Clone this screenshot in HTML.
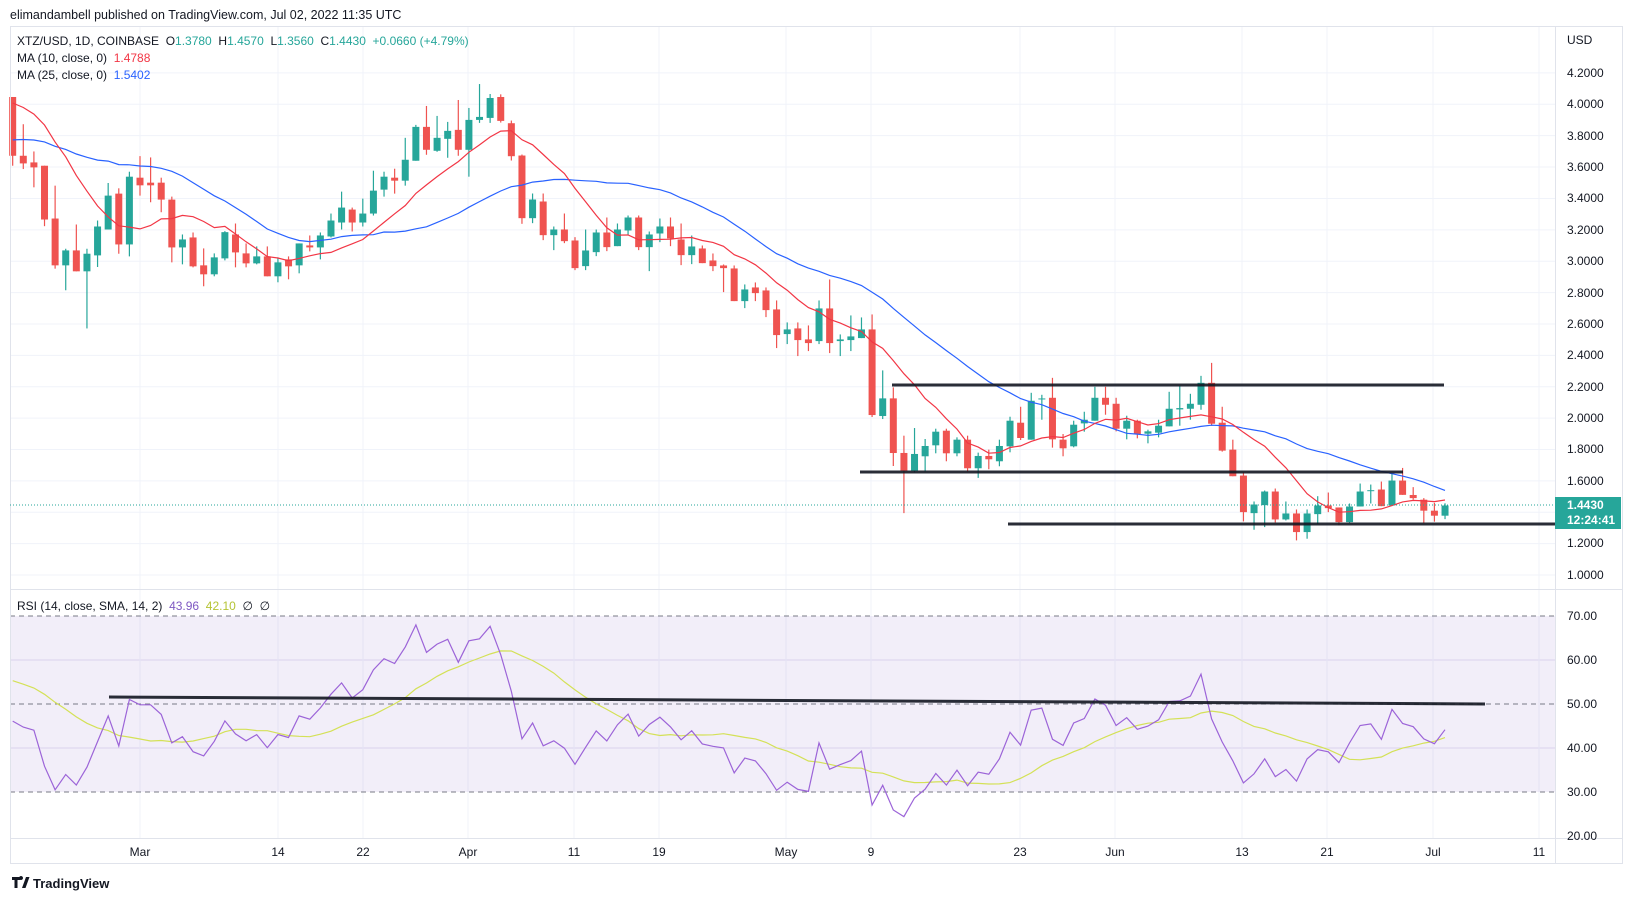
<!DOCTYPE html>
<html><head><meta charset="utf-8">
<style>
body{margin:0;background:#fff;width:1633px;height:901px;overflow:hidden;position:relative;font-family:"Liberation Sans",sans-serif;color:#131722}
.t{position:absolute;font-size:12px;white-space:nowrap;line-height:14px}
.pa{position:absolute;left:1567px;font-size:12px;line-height:14px;color:#131722}
.ta{position:absolute;top:845px;font-size:12px;line-height:14px;transform:translateX(-50%)}
svg{position:absolute;left:0;top:0}
</style></head><body>
<svg id="s" width="1633" height="901" viewBox="0 0 1633 901">
<g id="grid"></g>
<rect x="10" y="616" width="1545" height="176" fill="#7e57c2" fill-opacity="0.1"/>
<g stroke="#787b86" stroke-dasharray="5,4" stroke-width="1">
<line x1="10" y1="616" x2="1555" y2="616"/><line x1="10" y1="704" x2="1555" y2="704"/><line x1="10" y1="792" x2="1555" y2="792"/>
</g>
<g id="main"></g>
<g stroke="#e0e3eb" stroke-width="1" fill="none">
<rect x="10.5" y="26.5" width="1612" height="837"/>
<line x1="1555.5" y1="26" x2="1555.5" y2="864"/>
<line x1="10" y1="589.5" x2="1623" y2="589.5"/>
<line x1="10" y1="838.5" x2="1623" y2="838.5"/>
</g>
<line x1="10" y1="505" x2="1555" y2="505" stroke="#26a69a" stroke-dasharray="1,2"/>
<g stroke="#131722" stroke-width="3" opacity="0.9">
<line x1="892" y1="385" x2="1444" y2="385"/>
<line x1="860" y1="472" x2="1403" y2="472"/>
<line x1="1008" y1="524" x2="1555" y2="524"/>
<line x1="109" y1="697" x2="1485" y2="704"/>
</g>
<rect x="1555" y="497" width="66" height="32" fill="#26a69a"/>
<g transform="translate(12,877)"><path d="M0 0h8v3h-2.5v8h-3V3H0z M9 3a2 2 0 1 1 0.01 0z M10 11l4-11h3.5l-4 11z" fill="#131722"/></g>
</svg>
<div class="t" style="left:10px;top:8px;font-size:12.5px">elimandambell published on TradingView.com, Jul 02, 2022 11:35 UTC</div>
<div class="t" style="left:17px;top:34px">XTZ/USD, 1D, COINBASE&nbsp; O<span style="color:#26a69a">1.3780</span>&nbsp; H<span style="color:#26a69a">1.4570</span>&nbsp; L<span style="color:#26a69a">1.3560</span>&nbsp; C<span style="color:#26a69a">1.4430</span>&nbsp; <span style="color:#26a69a">+0.0660 (+4.79%)</span></div>
<div class="t" style="left:17px;top:51px">MA (10, close, 0)&nbsp; <span style="color:#f23645">1.4788</span></div>
<div class="t" style="left:17px;top:68px">MA (25, close, 0)&nbsp; <span style="color:#2962ff">1.5402</span></div>
<div class="t" style="left:17px;top:599px">RSI (14, close, SMA, 14, 2)&nbsp; <span style="color:#7e57c2">43.96</span>&nbsp; <span style="color:#b5c334">42.10</span>&nbsp; ∅&nbsp; ∅</div>
<div class="pa" style="top:33px">USD</div>
<div class="pa" style="top:66px">4.2000</div><div class="pa" style="top:97px">4.0000</div><div class="pa" style="top:129px">3.8000</div><div class="pa" style="top:160px">3.6000</div><div class="pa" style="top:191px">3.4000</div><div class="pa" style="top:223px">3.2000</div><div class="pa" style="top:254px">3.0000</div><div class="pa" style="top:286px">2.8000</div><div class="pa" style="top:317px">2.6000</div><div class="pa" style="top:348px">2.4000</div><div class="pa" style="top:380px">2.2000</div><div class="pa" style="top:411px">2.0000</div><div class="pa" style="top:442px">1.8000</div><div class="pa" style="top:474px">1.6000</div><div class="pa" style="top:536px">1.2000</div><div class="pa" style="top:568px">1.0000</div>
<div class="pa" style="top:498px;color:#fff;font-weight:bold">1.4430</div>
<div class="pa" style="top:513px;color:#fff;font-weight:bold">12:24:41</div>
<div class="pa" style="top:609px">70.00</div><div class="pa" style="top:653px">60.00</div><div class="pa" style="top:697px">50.00</div><div class="pa" style="top:741px">40.00</div><div class="pa" style="top:785px">30.00</div><div class="pa" style="top:829px">20.00</div>
<div class="ta" style="left:140px">Mar</div><div class="ta" style="left:278px">14</div><div class="ta" style="left:363px">22</div><div class="ta" style="left:468px">Apr</div><div class="ta" style="left:574px">11</div><div class="ta" style="left:659px">19</div><div class="ta" style="left:786px">May</div><div class="ta" style="left:871px">9</div><div class="ta" style="left:1020px">23</div><div class="ta" style="left:1115px">Jun</div><div class="ta" style="left:1242px">13</div><div class="ta" style="left:1327px">21</div><div class="ta" style="left:1433px">Jul</div><div class="ta" style="left:1539px">11</div>
<div class="t" style="left:33px;top:877px;font-size:13px;font-weight:bold">TradingView</div>
<script>
var NS="http://www.w3.org/2000/svg";
function el(p,n,a){var e=document.createElementNS(NS,n);for(var k in a)e.setAttribute(k,a[k]);p.appendChild(e);return e;}
var A=[["r",108,285,108,315],["r",285,308,190,325],["r",305,320,272,380],["r",315,477,315,497],["r",474,615,375,625],["g",570,615,565,690],["r",570,633,492,633],["g",580,633,565,805],["g",498,585,480,620],["g",405,507,367,507],["r",399,552,383,580],["g",348,552,333,588],["r",351,374,286,405],["r",366,374,290,425],["r",366,417,351,455],["r",417,561,408,606],["g",537,561,522,612],["r",531,618,516,621],["r",615,642,564,678],["g",591,642,579,648],["g",515,594,512,600],["r",522,576,489,621],["r",579,609,549,621],["g",588,609,558,612],["r",588,648,558,648],["g",606,648,591,666],["r",597,618,588,657],["g",549,615,549,639],["r",555,561,525,573],["g",525,561,516,597],["g",480,528,459,531],["g",441,486,393,507],["r",447,486,441,513],["g",459,486,414,498],["g",390,459,330,465],["g",348,387,333,408],["r",351,360,324,399],["g",297,360,231,375],["g",198,300,192,300],["r",198,267,135,282],["g",231,270,165,273],["g",210,234,183,291],["r",207,267,117,285],["g",177,267,141,348],["g",168,177,69,186],["g",111,171,99,186],["r",108,180,100,185]];
var B=[["r",-82,17,-90,30],["r",15,203,12,220],["g",147,203,129,218],["r",153,254,129,269],["g",237,254,228,299],["r",237,272,189,278],["r",270,353,260,359],["g",300,347,237,359],["g",246,305,237,317],["r",246,290,201,302],["g",237,287,219,287],["g",201,240,195,254],["r",201,290,195,299],["g",252,290,243,362],["g",228,249,204,275],["r",228,264,201,287],["r",267,314,219,344],["g",288,314,255,341],["r",294,338,285,338],["r",330,347,309,362],["r",345,353,342,425],["r",354,452,345,452],["g",417,452,402,473],["r",411,428,396,452],["r",420,479,411,500],["r",477,554,450,593],["g",537,551,516,581],["r",534,569,516,617],["r",567,578,525,602],["g",474,572,450,581],["r",474,578,387,608],["g",567,572,552,617],["g",558,569,495,602],["g",537,563,501,563],["r",537,794,492,800],["g",744,797,660,806],["r",744,908,711,947]];
var C=[["r",337,390,285,518],["g",340,390,262,395],["g",316,347,295,393],["g",273,314,264,338],["r",270,338,264,362],["g",297,338,290,347],["r",297,383,285,393],["g",346,383,336,412],["r",346,356,327,386],["g",316,362,297,377],["g",240,317,228,335],["r",246,292,198,298],["g",180,297,156,297],["g",173,176,162,237],["r",171,296,111,321],["r",297,323,280,347],["g",252,317,240,320],["g",237,248,213,273],["g",171,240,138,240],["r",171,192,138,222],["r",189,264,171,272],["g",240,264,225,296],["r",240,281,237,293],["g",272,279,267,308],["g",255,276,237,290],["g",204,257,153,257],["g",202,206,135,255],["g",189,204,159,237],["g",126,192,105,207],["r",126,249,66,255],["r",246,330,198,333],["r",327,407,297,407],["r",405,515,395,543],["g",492,518,483,568],["g",453,494,450,560],["r",453,537,444,546],["g",519,537,483,540],["r",519,575,507,600],["g",519,575,507,595],["g",495,521,467,551],["r",495,503,456,515],["r",501,545,501,555],["g",498,545,489,548],["g",453,498,429,498],["g",449,452,432,489],["r",447,497,423,497],["g",420,495,399,495],["r",420,463,382,463]];
var cs=[];
function addSeg(arr,f){arr.forEach(function(a){cs.push({c:a[0],bt:f(a[1]),bb:f(a[2]),h:f(a[3]),l:f(a[4])});});}
addSeg(A,function(z){return 4.0-(z-130)/472.5;});
addSeg(B,function(z){return 3.2-(z-238)/471;});
addSeg(C,function(z){return 2.21-(z-133)/472;});
[["r",1.51,1.49,1.56,1.48],["r",1.48,1.41,1.49,1.33],["r",1.41,1.378,1.46,1.34],["g",1.443,1.378,1.457,1.356]].forEach(function(a){cs.push({c:a[0],bt:a[1],bb:a[2],h:a[3],l:a[4]});});
function Y(p){return 575-(p-1)*156.9;}
function X(i){return 140+(i-12)*10.61;}
function RY(r){return 836-(r-20)*4.4;}
var grid=document.getElementById("grid");
for(var p=1.0;p<4.25;p+=0.2){var y=Y(p);el(grid,"line",{x1:10,x2:1555,y1:y,y2:y,stroke:"#f0f3fa"});}
[660,748].forEach(function(y){el(grid,"line",{x1:10,x2:1555,y1:y,y2:y,stroke:"#e6e1f2"});});
[140,278,363,468,574,659,786,871,1020,1115,1242,1327,1433,1539].forEach(function(x){el(grid,"line",{x1:x,x2:x,y1:26,y2:838,stroke:"#f0f3fa"});});
var m=document.getElementById("main");
var closes=cs.map(function(c){return c.c=="g"?c.bt:c.bb;});
var pre=[];for(var k=0;k<15;k++)pre.push(3.62+(k%2?0.05:-0.05));for(var k=0;k<9;k++)pre.push(3.95+k*0.025+(k%2?0.04:-0.04));
var all=pre.concat(closes),P=pre.length;
function ma(n){var pts=[];for(var i=0;i<closes.length;i++){var s=0;for(var j=0;j<n;j++)s+=all[P+i-j];pts.push(X(i).toFixed(1)+","+Y(s/n).toFixed(1));}return pts.join(" ");}
cs.forEach(function(c,i){var col=c.c=="g"?"#26a69a":"#ef5350";var x=X(i);
el(m,"line",{x1:x,x2:x,y1:Y(c.h),y2:Y(c.l),stroke:col,"stroke-width":1.2});
var t=Y(c.bt),b=Y(c.bb);el(m,"rect",{x:x-3.5,y:t,width:7,height:Math.max(1,b-t),fill:col});});
el(m,"polyline",{points:ma(25),fill:"none",stroke:"#2962ff","stroke-width":1.2});
el(m,"polyline",{points:ma(10),fill:"none",stroke:"#f23645","stroke-width":1.2});
var ag=0,al=0,rsi=[];for(var i=1;i<=14;i++){var d=all[i]-all[i-1];if(d>0)ag+=d;else al-=d;}ag/=14;al/=14;
for(var i=15;i<all.length;i++){var d=all[i]-all[i-1];ag=(ag*13+Math.max(d,0))/14;al=(al*13+Math.max(-d,0))/14;if(i>=P)rsi.push(100-100/(1+ag/al));}
var rp=[],sp=[];rsi.forEach(function(r,i){rp.push(X(i).toFixed(1)+","+RY(r).toFixed(1));var s=0,n=0;for(var j=Math.max(0,i-13);j<=i;j++){s+=rsi[j];n++;}var v=s/n;if(i<13)v=v*(n/14)+56*(14-n)/14;sp.push(X(i).toFixed(1)+","+RY(v).toFixed(1));});
el(m,"polyline",{points:sp.join(" "),fill:"none",stroke:"#d4e157","stroke-width":1.2});
el(m,"polyline",{points:rp.join(" "),fill:"none",stroke:"#9c64d8","stroke-width":1.2});
</script>
</body></html>
